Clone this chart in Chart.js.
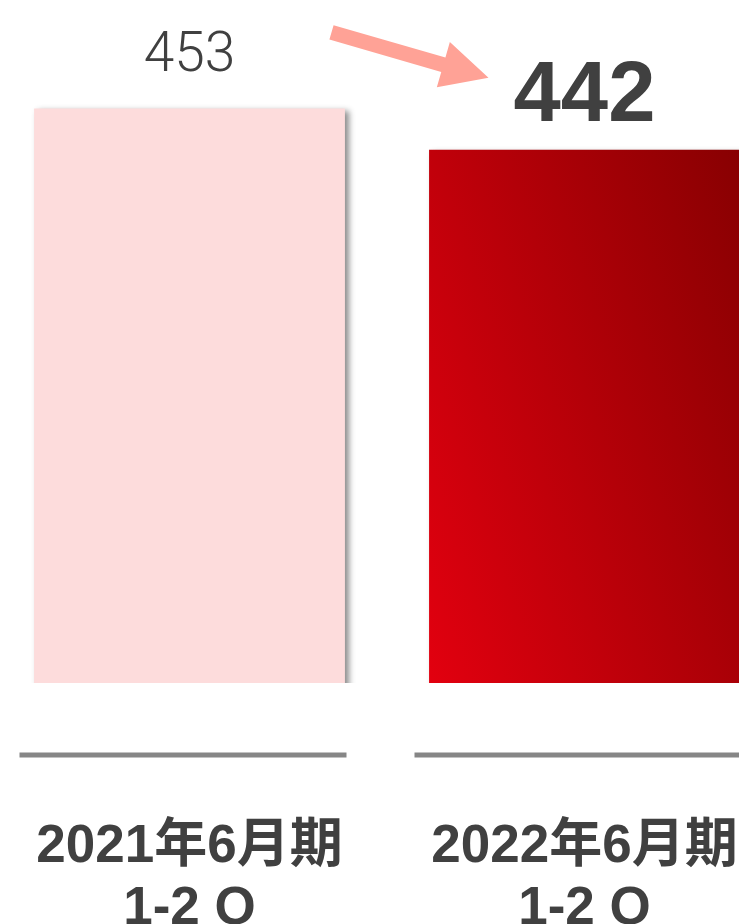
<!DOCTYPE html>
<html lang="ja">
<head>
  <meta charset="UTF-8" />
  <title>売上高比較 1-2Q</title>
  <style>
    html, body {
      margin: 0;
      padding: 0;
      background: #ffffff;
      overflow: hidden;
    }
    #salesChart {
      position: absolute;
      left: -8px;
      top: 0;
    }
  </style>
</head>
<body>
  <canvas id="salesChart" width="790" height="947"></canvas>

  <script src="https://cdn.jsdelivr.net/npm/chart.js@4.4.0/dist/chart.umd.min.js"></script>
  <script>
    // 期ごとの値
    const periods = [['2021年6月期', '1-2 Q'], ['2022年6月期', '1-2 Q']];
    const values = [453, 442];
    const axisMin = 300;
    const axisMax = 480;

    const textColor = '#404040';
    const pastColor = '#fddcdc';

    // 今期の棒は左下→右上に濃くなるグラデーション
    const barFill = (ctx) => {
      if (ctx.dataIndex === 0) return pastColor;
      const chart = ctx.chart;
      const area = chart.chartArea;
      if (!area) return '#c0000a';
      const xs = chart.scales.x;
      const ys = chart.scales.y;
      const w = (xs.width / periods.length) * 0.787;
      const left = xs.getPixelForValue(ctx.dataIndex) - w / 2;
      const bottom = area.bottom;
      const h = bottom - ys.getPixelForValue(values[ctx.dataIndex]);
      const g = chart.ctx.createLinearGradient(left, bottom, left + w * 1.576, bottom - h * 0.311);
      g.addColorStop(0, '#e2000f');
      g.addColorStop(1, '#7e0000');
      return g;
    };

    // 棒の影
    const barShadow = {
      id: 'barShadow',
      beforeDatasetsDraw(chart) {
        const c = chart.ctx;
        c.save();
        c.shadowColor = 'rgba(0,0,0,0.45)';
        c.shadowOffsetX = 4;
        c.shadowOffsetY = 3;
        c.shadowBlur = 6;
      },
      afterDatasetsDraw(chart) {
        chart.ctx.restore();
      }
    };

    // 値ラベル・矢印・下の区切り線
    const decorations = {
      id: 'decorations',
      afterDraw(chart) {
        const c = chart.ctx;
        const bars = chart.getDatasetMeta(0).data;
        const area = chart.chartArea;

        c.save();
        c.fillStyle = textColor;
        c.textAlign = 'center';
        c.textBaseline = 'alphabetic';

        c.font = '300 55px Roboto, "Liberation Sans", sans-serif';
        c.fillText(String(values[0]), bars[0].x, bars[0].y - 37);

        c.font = 'bold 85px "Liberation Sans", Arial, sans-serif';
        c.fillText(String(values[1]), bars[1].x, bars[1].y - 29);

        // 矢印
        const x0 = bars[0].x + 142, y0 = bars[0].y - 76;
        const x1 = bars[1].x - 96, y1 = bars[1].y - 72;
        const len = Math.hypot(x1 - x0, y1 - y0);
        const ang = Math.atan2(y1 - y0, x1 - x0);
        const head = 47, headHalf = 23.5, shaft = 7.5;
        c.translate(x0, y0);
        c.rotate(ang);
        c.beginPath();
        c.moveTo(0, -shaft);
        c.lineTo(len - head, -shaft);
        c.lineTo(len - head, -headHalf);
        c.lineTo(len, 0);
        c.lineTo(len - head, headHalf);
        c.lineTo(len - head, shaft);
        c.lineTo(0, shaft);
        c.closePath();
        c.fillStyle = '#ffa296';
        c.fill();
        c.restore();

        // 区切り線
        c.save();
        c.strokeStyle = '#868686';
        c.lineWidth = 5;
        bars.forEach((b) => {
          c.beginPath();
          c.moveTo(b.x - 170, area.bottom + 72);
          c.lineTo(b.x + 157, area.bottom + 72);
          c.stroke();
        });
        c.restore();
      }
    };

    new Chart(document.getElementById('salesChart'), {
      type: 'bar',
      data: {
        labels: periods,
        datasets: [{
          data: values,
          backgroundColor: barFill,
          borderWidth: 0,
          barPercentage: 0.787,
          categoryPercentage: 1
        }]
      },
      options: {
        responsive: false,
        animation: false,
        layout: { padding: { top: 7, bottom: 7, left: 0, right: 0 } },
        plugins: {
          legend: { display: false },
          tooltip: { enabled: false }
        },
        scales: {
          x: {
            // 目盛り線は描かず、tickLength で棒とラベルの間隔をとる
            grid: { display: false, drawTicks: true, tickLength: 133 },
            border: { display: false },
            ticks: {
              color: textColor,
              padding: 0,
              maxRotation: 0,
              minRotation: 0,
              autoSkip: false,
              font: {
                family: '"Liberation Sans", "Noto Sans CJK JP", sans-serif',
                size: 53,
                weight: 'bold',
                lineHeight: '62px'
              }
            }
          },
          y: {
            display: false,
            min: axisMin,
            max: axisMax
          }
        }
      },
      plugins: [barShadow, decorations]
    });
  </script>
</body>
</html>
